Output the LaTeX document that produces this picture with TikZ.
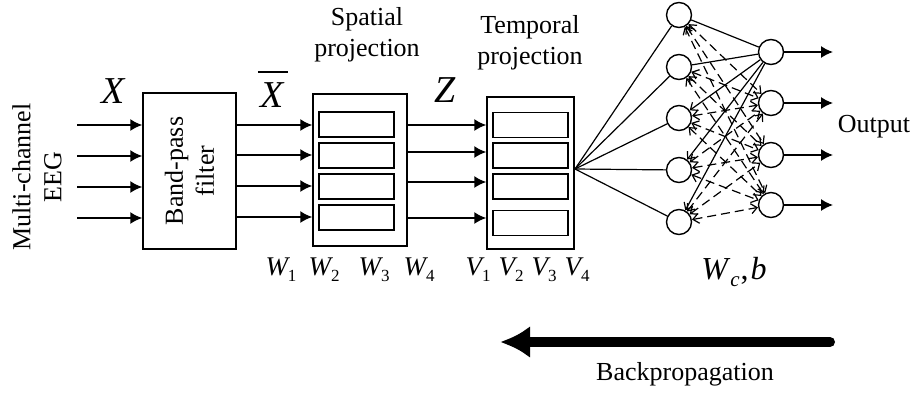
\documentclass[tikz,border=0pt]{standalone}
\usepackage{fontspec}
\setmainfont{Liberation Serif}
\usetikzlibrary{arrows.meta}
\newcommand\lsub[1]{\raisebox{-0.5ex}{\fontsize{17}{17}\selectfont\upshape #1}}
\begin{document}
\begin{tikzpicture}[x=1pt,y=-1pt,
  every node/.style={font=\fontsize{26}{31}\selectfont},
  box/.style={draw, line width=1.5pt, inner sep=0pt},
  cell/.style={draw, line width=1.5pt, inner sep=0pt, minimum width=75pt, minimum height=25pt},
  arr/.style={line width=1.5pt, -{Latex[length=12pt,width=12pt]}},
  neuron/.style={draw, circle, line width=1.4pt, minimum size=25pt, inner sep=0pt},
  wire/.style={line width=1.2pt},
  tip/.style={-{Straight Barb[length=6pt,width=10pt]}},
  biglab/.style={font=\fontsize{38}{38}\selectfont\itshape},
  wlab/.style={font=\fontsize{27}{27}\selectfont\itshape}
]
\useasboundingbox (0,0) rectangle (912,394);

% labels left
\node[rotate=90, align=center] (eeg) at (37,177) {Multi-channel\\EEG};

% band-pass filter
\node[box, minimum width=93pt, minimum height=156pt] (bp) at (189.5,171) {};
\node[rotate=90, align=center] (bptext) at (bp.center) {Band-pass\\filter};

% spatial projection box
\node[box, minimum width=94pt, minimum height=152pt] (sp) at (360,170) {};
\node[cell] (sc1) at (356.5,124.5) {};
\node[cell] (sc2) at (356.5,155.5) {};
\node[cell] (sc3) at (356.5,186.5) {};
\node[cell] (sc4) at (356.5,217.5) {};

% temporal projection box
\node[box, minimum width=87pt, minimum height=152pt] (tp) at (530.5,173) {};
\node[cell] (tc1) at (530.5,125) {};
\node[cell] (tc2) at (530.5,155.5) {};
\node[cell] (tc3) at (530.5,186.5) {};
\node[cell] (tc4) at (530.5,223) {};

% titles
\node[align=center] (sptitle) at (367,35) {Spatial\\projection};
\node[align=center] (tptitle) at (530,43) {Temporal\\projection};

% signal labels
\node[biglab] (xl) at (113,91) {X};
\node[biglab] (xbl) at (272,95) {X};
\draw[line width=1.6pt] ([xshift=1pt,yshift=7pt]xbl.north west) -- ([xshift=1pt,yshift=7pt]xbl.north east);
\node[biglab] (zl) at (445,90) {Z};

% input arrows
\foreach \y [count=\i] in {125,156,187,218} {
  \coordinate (in\i) at (77,\y);
  \draw[arr] (in\i) -- (in\i -| bp.west);
}
% band-pass -> spatial
\foreach \y [count=\i] in {125,155,186,217} {
  \coordinate (m\i) at (0,\y);
  \draw[arr] (bp.east |- m\i) -- (sp.west |- m\i);
}
% spatial -> temporal
\foreach \y [count=\i] in {125,152,182,218} {
  \coordinate (n\i) at (0,\y);
  \draw[arr] (sp.east |- n\i) -- (tp.west |- n\i);
}

% weight labels
\node[wlab] (w1) at (281,270) {W\lsub{1}};
\node[wlab] (w2) at (324,270) {W\lsub{2}};
\node[wlab] (w3) at (374,270) {W\lsub{3}};
\node[wlab] (w4) at (419,270) {W\lsub{4}};
\node[wlab] (v1) at (478,270) {V\lsub{1}};
\node[wlab] (v2) at (511,270) {V\lsub{2}};
\node[wlab] (v3) at (544,270) {V\lsub{3}};
\node[wlab] (v4) at (577,270) {V\lsub{4}};

% network
\foreach \y [count=\i] in {15,67,118,170,222}
  \node[neuron] (L\i) at (679,\y) {};
\foreach \y [count=\j] in {52,103,155,205}
  \node[neuron] (R\j) at (771,\y) {};

\coordinate (fan) at (575,169);
\foreach \i in {1,...,5}
  \draw[wire] (fan) -- (L\i);
\draw[wire] (L1) -- (R1);
\draw[wire] (L2) -- (R1);
\foreach \i in {3,4,5}
  \draw[wire, tip] (R1) -- (L\i);
\foreach \j in {2,3,4}
  \foreach \i in {1,...,5}
    \draw[wire, dash pattern=on 9pt off 5pt, {Straight Barb[length=6pt,width=10pt]}-{Straight Barb[length=6pt,width=10pt]}] (L\i) -- (R\j);

% outputs
\foreach \j in {1,...,4} {
  \coordinate (o\j) at (833,0);
  \draw[arr] (R\j.east) -- (R\j.east -| o\j);
}
\node (outl) at (874,127) {Output};

\node[font=\fontsize{32}{32}\selectfont] (wcb) at (734,272) {\textit{W}\raisebox{-0.5ex}{\fontsize{21}{21}\selectfont\itshape c}\hspace{1pt},\hspace{2pt}\textit{b}};

% backpropagation
\coordinate (bpa) at (830,342);
\coordinate (bpb) at (500,342);
\draw[line width=10pt, line cap=round, -{Latex[length=30pt,width=32pt]}] (bpa) -- (bpb);
\node (bplab) at (685,374) {Backpropagation};
\end{tikzpicture}
\end{document}
